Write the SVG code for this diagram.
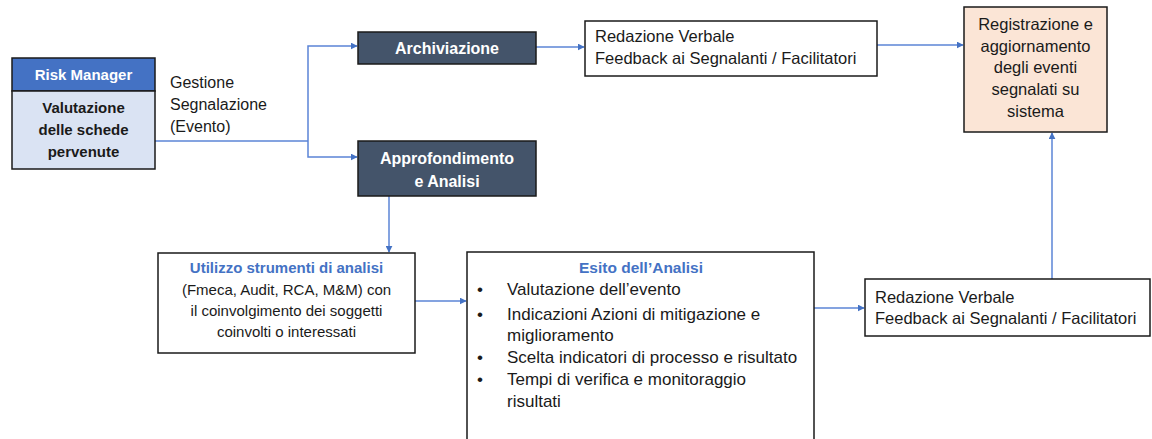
<svg xmlns="http://www.w3.org/2000/svg" width="1152" height="439" viewBox="0 0 1152 439">
<defs>
<style>
text{font-family:"Liberation Sans",Arial,sans-serif;font-size:15px;fill:#1a1a1a}
.b{font-weight:bold}
.w{fill:#ffffff;font-weight:bold}
.blue{fill:#4472C4;font-weight:bold}
.c{text-anchor:middle}
.f16, .f16 text{font-size:16px}
.f165 text{font-size:16.5px}
.f17 text{font-size:17px}
.f17 text.blue{font-size:15.5px}
.box{stroke:#1a1a1a;stroke-width:1.5}
.conn{stroke:#5B84D6;stroke-width:1.5;fill:none}
</style>
<marker id="ah" viewBox="0 0 10 10" refX="9" refY="5" markerWidth="7" markerHeight="7" markerUnits="userSpaceOnUse" orient="auto">
<path d="M0,0 L10,5 L0,10 z" fill="#4472C4"/>
</marker>
</defs>
<rect width="1152" height="439" fill="#ffffff"/>
<g id="connectors">
<path class="conn" d="M155,141 H308"/>
<path class="conn" d="M308,141 V46 H357" marker-end="url(#ah)"/>
<path class="conn" d="M308,141 V157 H357" marker-end="url(#ah)"/>
<path class="conn" d="M536,47 H584" marker-end="url(#ah)"/>
<path class="conn" d="M877,45 H963" marker-end="url(#ah)"/>
<path class="conn" d="M389,196 V252" marker-end="url(#ah)"/>
<path class="conn" d="M415,301 H466" marker-end="url(#ah)"/>
<path class="conn" d="M814,308 H864" marker-end="url(#ah)"/>
<path class="conn" d="M1052,279 V133" marker-end="url(#ah)"/>
</g>
<g id="risk-manager">
<rect x="12" y="58" width="143" height="33" fill="#4472C4" class="box"/>
<rect x="12" y="91" width="143" height="78" fill="#DAE3F3" class="box"/>
<text x="83.5" y="80" class="w c">Risk Manager</text>
<text x="83.5" y="113" class="b c">Valutazione</text>
<text x="83.5" y="135" class="b c">delle schede</text>
<text x="83.5" y="157" class="b c">pervenute</text>
</g>
<g id="gestione-label" class="f16">
<text x="170" y="88">Gestione</text>
<text x="170" y="110">Segnalazione</text>
<text x="170" y="132">(Evento)</text>
</g>
<g id="archiviazione">
<rect x="358" y="32" width="178" height="32" fill="#44546A" class="box"/>
<text x="447" y="54" class="w c f16">Archiviazione</text>
</g>
<g id="approfondimento">
<rect x="358" y="141" width="178" height="55" fill="#44546A" class="box"/>
<text x="447" y="164" class="w c f16">Approfondimento</text>
<text x="447" y="187" class="w c f16">e Analisi</text>
</g>
<g id="redazione-top" class="f165">
<rect x="585" y="21" width="292" height="55" fill="#ffffff" class="box"/>
<text x="595" y="42">Redazione Verbale</text>
<text x="595" y="64">Feedback ai Segnalanti / Facilitatori</text>
</g>
<g id="registrazione" class="f165">
<rect x="964" y="7" width="143" height="125" fill="#FBE5D6" class="box"/>
<text x="1035.5" y="30" class="c">Registrazione e</text>
<text x="1035.5" y="52" class="c">aggiornamento</text>
<text x="1035.5" y="73" class="c">degli eventi</text>
<text x="1035.5" y="95" class="c">segnalati su</text>
<text x="1035.5" y="117" class="c">sistema</text>
</g>
<g id="utilizzo">
<rect x="158" y="253" width="257" height="100" fill="#ffffff" class="box"/>
<text x="286.5" y="273" class="blue c">Utilizzo strumenti di analisi</text>
<text x="286.5" y="295" class="c">(Fmeca, Audit, RCA, M&amp;M) con</text>
<text x="286.5" y="316" class="c">il coinvolgimento dei soggetti</text>
<text x="286.5" y="337" class="c">coinvolti o interessati</text>
</g>
<g id="esito" class="f17">
<rect x="467" y="252" width="347" height="200" fill="#ffffff" class="box"/>
<text x="641" y="273" class="blue c">Esito dell’Analisi</text>
<text x="477" y="295">•</text>
<text x="507" y="295">Valutazione dell’evento</text>
<text x="477" y="320">•</text>
<text x="507" y="320">Indicazioni Azioni di mitigazione e</text>
<text x="507" y="341">miglioramento</text>
<text x="477" y="363">•</text>
<text x="507" y="363">Scelta indicatori di processo e risultato</text>
<text x="477" y="385">•</text>
<text x="507" y="385">Tempi di verifica e monitoraggio</text>
<text x="507" y="407">risultati</text>
</g>
<g id="redazione-bottom" class="f165">
<rect x="865" y="279" width="285" height="57" fill="#ffffff" class="box"/>
<text x="875" y="303">Redazione Verbale</text>
<text x="875" y="324">Feedback ai Segnalanti / Facilitatori</text>
</g>
</svg>
